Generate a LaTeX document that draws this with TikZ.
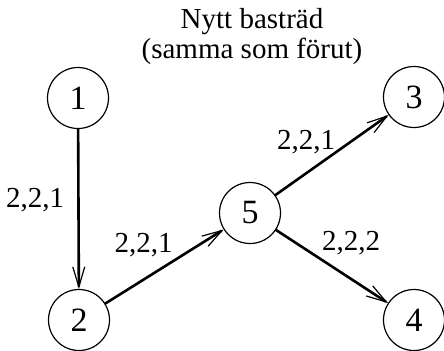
\documentclass[tikz,border=0pt]{standalone}
\usepackage{fontspec}
\setmainfont{Liberation Serif}
\usetikzlibrary{arrows.meta}
\tikzset{
  every picture/.style={
    line join=round,
    line cap=round,
  },
  vertex/.style={circle, draw, line width=0.6pt, minimum size=30.5pt, inner sep=0pt,
    font=\fontsize{17}{18}\selectfont},
  edge/.style={line width=1.3pt, -{Straight Barb[length=10pt,width=6pt,line width=0.6pt]}},
  wlabel/.style={inner sep=0pt},
}

\begin{document}
\begin{tikzpicture}[x=0.5pt, y=-0.5pt, font=\fontsize{14.5}{15}\selectfont]
    \useasboundingbox (0,0) rectangle (444,350);
    % Title
    \node[inner sep=0pt, anchor=north, align=center] (title) at (252,8) {Nytt basträd\\(samma som förut)};
    % Vertices
    \node[vertex] (n1) at (78,98) {1};
    \node[vertex] (n2) at (79,320) {2};
    \node[vertex] (n5) at (250,213) {5};
    \node[vertex] (n3) at (414,97) {3};
    \node[vertex] (n4) at (414,320) {4};
    % Edges of the tree
    \draw[edge] (n1) -- node[wlabel, pos=0.49, anchor=base east, xshift=-6.5pt] {2,2,1} (n2);
    \draw[edge] (n2) -- node[wlabel, pos=0.58, anchor=base east, yshift=4pt] {2,2,1} (n5);
    \draw[edge] (n5) -- node[wlabel, pos=0.54, anchor=base east, yshift=1pt] {2,2,1} (n3);
    \draw[edge] (n5) -- node[wlabel, pos=0.40, anchor=base west, yshift=4.5pt] {2,2,2} (n4);
\end{tikzpicture}
\end{document}
